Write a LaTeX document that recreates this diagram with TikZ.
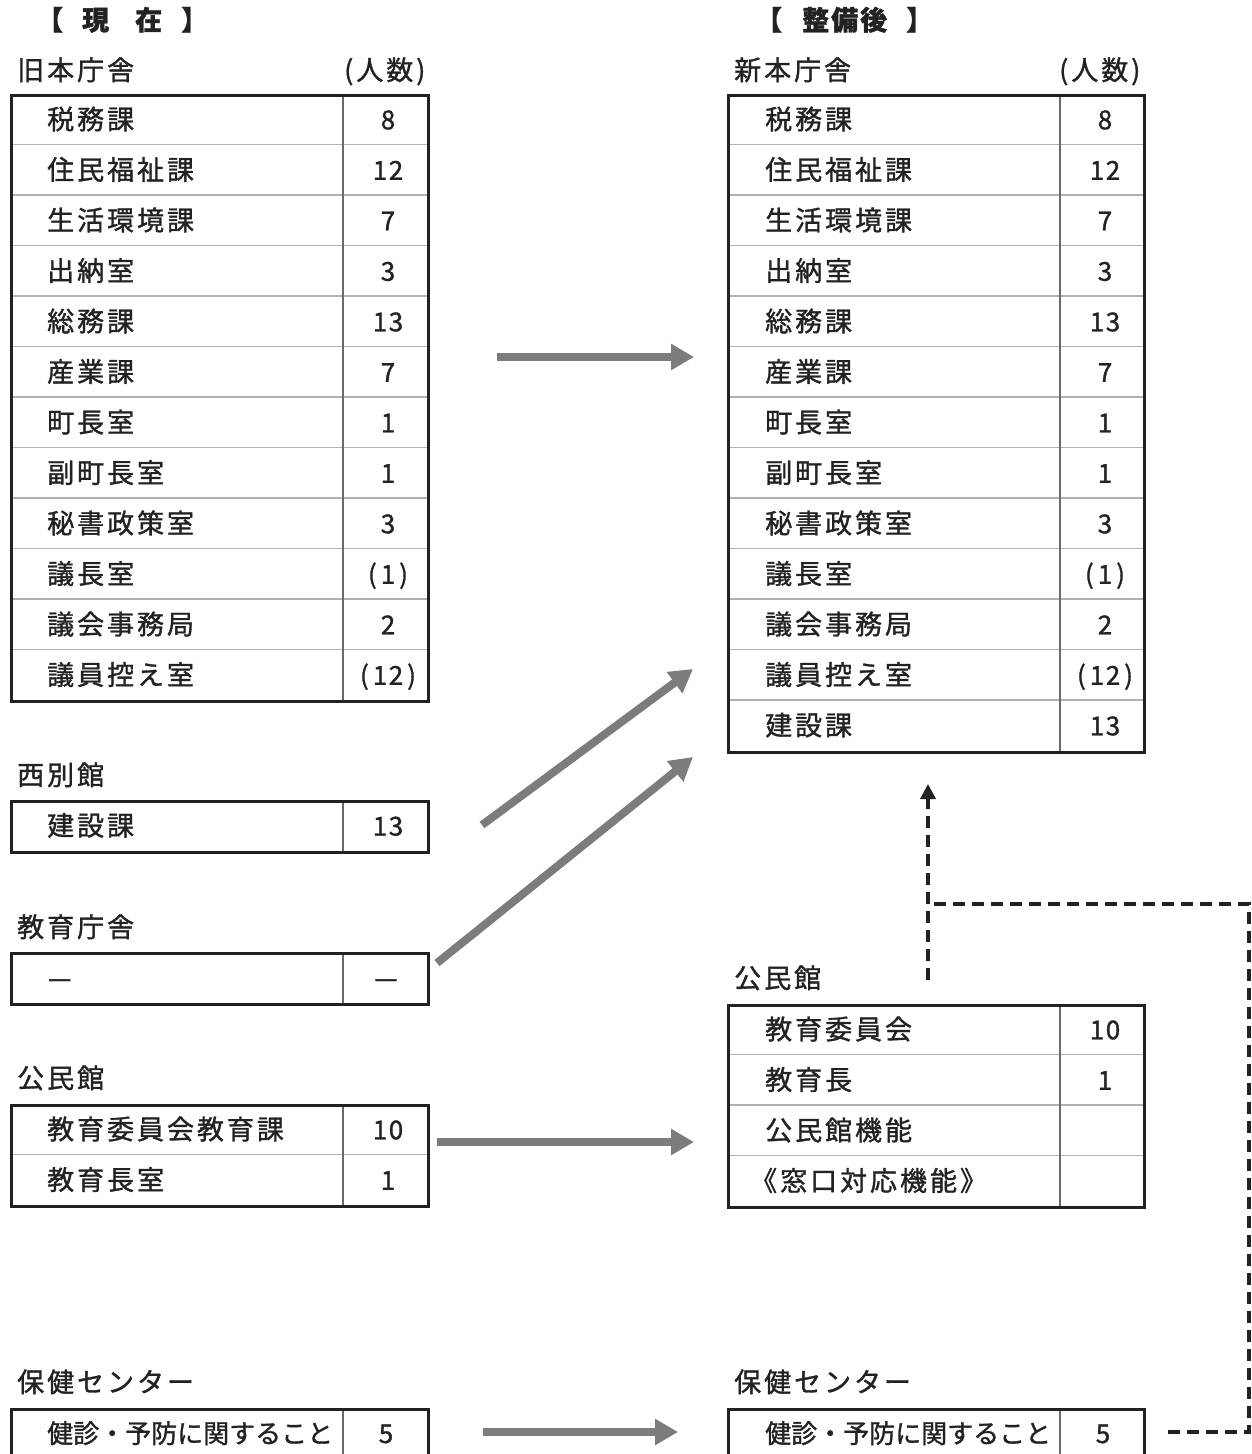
\documentclass[tikz,border=0pt]{standalone}
\usepackage{fontspec}
\setmainfont{Noto Sans CJK JP}
\newfontfamily\jp{Noto Sans CJK JP}[LetterSpace=11, FakeBold=1.2]
\newfontfamily\jpn{Noto Sans CJK JP}[FakeBold=1.2]
\newfontfamily\jpd{Noto Sans CJK JP}[LetterSpace=6, FakeBold=1.2]
\usetikzlibrary{arrows.meta}
\definecolor{ink}{HTML}{222222}
\definecolor{rulec}{HTML}{B0B0B0}
\definecolor{divc}{HTML}{6A6A6A}
\definecolor{arrowgray}{HTML}{7C7C7C}
\newcommand{\pn}[1]{(\kern4pt#1\kern4pt)}
\begin{document}
\begin{tikzpicture}[x=1pt,y=-1pt,
  txt/.style={inner sep=0pt, anchor=base west, text=ink, font=\jp\fontsize{27pt}{30pt}\selectfont},
  txtn/.style={inner sep=0pt, anchor=base west, text=ink, font=\jpn\fontsize{26pt}{30pt}\selectfont},
  num/.style={inner sep=0pt, anchor=base, text=ink, font=\jpd\fontsize{26pt}{30pt}\selectfont},
  hdr/.style={inner sep=0pt, anchor=base west, text=ink, font=\jpn\bfseries\fontsize{27pt}{30pt}\selectfont},
  tbl/.style={draw=ink, line width=2.6pt, inner sep=0pt, anchor=north west},
  rowrule/.style={draw=rulec, line width=1.2pt},
  divrule/.style={draw=divc, line width=1.2pt},
  bigarrow/.style={draw=arrowgray, line width=8pt, -{Triangle[length=23pt,width=25pt]}},
  dline/.style={draw=ink, line width=3.2pt, dash pattern=on 12pt off 7pt}
]
\useasboundingbox (0,0) rectangle (1251,1454);
\clip (0,0) rectangle (1251,1454);
\fill[white] (0,0) rectangle (1251,1454);

% ---------- headers ----------
\node[hdr] (hdrL) at (36,30) {【\hspace{19pt}現\hspace{26pt}在\hspace{19pt}】};
\node[hdr] (hdrR) at (755,30) {【\hspace{20pt}整\hspace{2pt}備\hspace{2pt}後\hspace{19pt}】};
\node[txt] (oldH) at (17,80) {旧本庁舎};
\node[txt] (oldP) at (344,80) {(人数)};
\node[txt] (newH) at (734,80) {新本庁舎};
\node[txt] (newP) at (1059,80) {(人数)};

% ---------- old main building table ----------
\foreach \k in {1,...,11} \draw[rowrule] (10,{94+50.5*\k}) -- (427,{94+50.5*\k});
\draw[divrule] (343,94) -- (343,700);
\node[tbl, minimum width=417pt, minimum height=606pt] (oldT) at (10,94) {};
\foreach \nm/\nu [count=\i] in {税務課/8, 住民福祉課/12, 生活環境課/7, 出納室/3, 総務課/13, 産業課/7, 町長室/1, 副町長室/1, 秘書政策室/3, 議長室/{\pn{1}}, 議会事務局/2, 議員控え室/{\pn{12}}} {
  \node[txt] (o\i) at (47,{94+50.5*(\i-0.5)+10}) {\nm};
  \node[num] (on\i) at (388,{94+50.5*(\i-0.5)+10}) {\nu};
}

% ---------- new main building table ----------
\foreach \k in {1,...,12} \draw[rowrule] (727,{94+50.5*\k}) -- (1143,{94+50.5*\k});
\draw[divrule] (1060,94) -- (1060,751);
\node[tbl, minimum width=416pt, minimum height=657pt] (newT) at (727,94) {};
\foreach \nm/\nu [count=\i] in {税務課/8, 住民福祉課/12, 生活環境課/7, 出納室/3, 総務課/13, 産業課/7, 町長室/1, 副町長室/1, 秘書政策室/3, 議長室/{\pn{1}}, 議会事務局/2, 議員控え室/{\pn{12}}, 建設課/13} {
  \node[txt] (n\i) at (765,{94+50.5*(\i-0.5)+10}) {\nm};
  \node[num] (nn\i) at (1105,{94+50.5*(\i-0.5)+10}) {\nu};
}

% ---------- west annex ----------
\node[txt] (westH) at (17,785) {西別館};
\draw[divrule] (343,800) -- (343,851);
\node[tbl, minimum width=417pt, minimum height=51pt] (westT) at (10,800) {};
\node[txt] (w1) at (47,835.5) {建設課};
\node[num] (wn1) at (388,835.5) {13};

% ---------- education building ----------
\node[txt] (eduH) at (17,937) {教育庁舎};
\draw[divrule] (343,952) -- (343,1003);
\node[tbl, minimum width=417pt, minimum height=51pt] (eduT) at (10,952) {};
\node[txtn] (e1) at (48,987.5) {—};
\node[txtn, anchor=base] (en1) at (386,987.5) {—};

% ---------- old community hall ----------
\node[txt] (khLH) at (17,1088) {公民館};
\draw[rowrule] (10,1154.5) -- (427,1154.5);
\draw[divrule] (343,1104) -- (343,1205);
\node[tbl, minimum width=417pt, minimum height=101pt] (khLT) at (10,1104) {};
\node[txt] (kl1) at (47,1139.25) {教育委員会教育課};
\node[num] (kln1) at (388,1139.25) {10};
\node[txt] (kl2) at (47,1189.75) {教育長室};
\node[num] (kln2) at (388,1189.75) {1};

% ---------- new community hall ----------
\node[txt] (khRH) at (734,988) {公民館};
\foreach \k in {1,2,3} \draw[rowrule] (727,{1004+50.5*\k}) -- (1143,{1004+50.5*\k});
\draw[divrule] (1060,1004) -- (1060,1206);
\node[tbl, minimum width=416pt, minimum height=202pt] (khRT) at (727,1004) {};
\node[txt] (kr1) at (765,1039.25) {教育委員会};
\node[num] (krn1) at (1105,1039.25) {10};
\node[txt] (kr2) at (765,1089.75) {教育長};
\node[num] (krn2) at (1105,1089.75) {1};
\node[txt] (kr3) at (765,1140.25) {公民館機能};
\node[txt] (kr4) at (750,1190.75) {《窓口対応機能》};

% ---------- health centre ----------
\node[txt] (hcLH) at (17,1392) {保健センター};
\draw[divrule] (343,1408) -- (343,1458);
\node[tbl, minimum width=417pt, minimum height=50pt] (hcLT) at (10,1408) {};
\node[txtn] (hl1) at (47,1443) {健診・予防に関すること};
\node[num] (hln1) at (386,1443) {5};

\node[txt] (hcRH) at (734,1392) {保健センター};
\draw[divrule] (1060,1408) -- (1060,1458);
\node[tbl, minimum width=416pt, minimum height=50pt] (hcRT) at (727,1408) {};
\node[txtn] (hr1) at (765,1443) {健診・予防に関すること};
\node[num] (hrn1) at (1103,1443) {5};

% ---------- gray transfer arrows ----------
\coordinate (a1s) at (497,357);  \coordinate (a1e) at (694,357);
\coordinate (a2s) at (482,825);  \coordinate (a2e) at (693,669);
\coordinate (a3s) at (437,963);  \coordinate (a3e) at (693,757);
\coordinate (a4s) at (437,1142); \coordinate (a4e) at (694,1142);
\coordinate (a5s) at (483,1432); \coordinate (a5e) at (678,1432);
\draw[bigarrow] (a1s) -- (a1e);
\draw[bigarrow] (a2s) -- (a2e);
\draw[bigarrow] (a3s) -- (a3e);
\draw[bigarrow] (a4s) -- (a4e);
\draw[bigarrow] (a5s) -- (a5e);

% ---------- dashed link ----------
\coordinate (d1) at (1168,1432);
\coordinate (d2) at (1249,1432);
\coordinate (d3) at (1249,904);
\coordinate (d4) at (928,904);
\coordinate (v1) at (928,980);
\coordinate (v2) at (928,784);
\draw[dline] (d1) -- (d2) -- (d3) -- (d4);
\draw[dline, -{Triangle[length=15pt,width=15pt]}] (v1) -- (v2);
\end{tikzpicture}
\end{document}
